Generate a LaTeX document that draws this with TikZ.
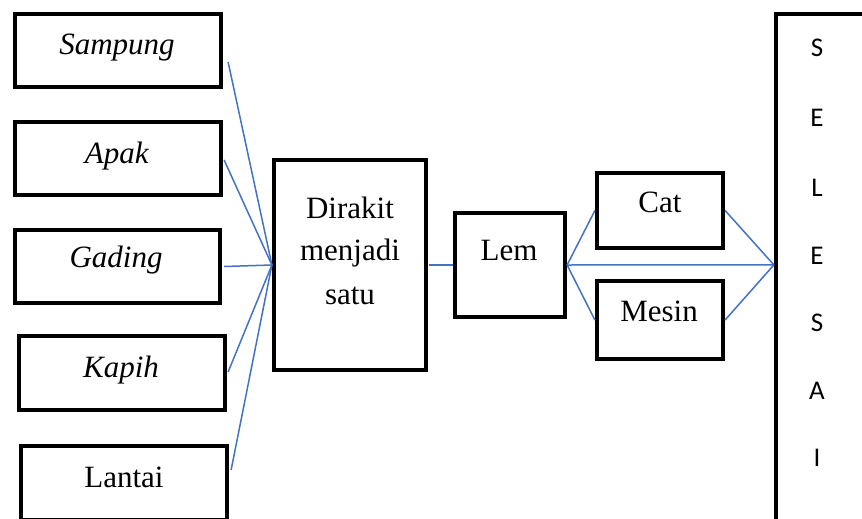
\documentclass[tikz,border=0pt]{standalone}
\usepackage{fontspec}
\setmainfont{Liberation Serif}
\newfontfamily\selesaifont{Carlito}
\usetikzlibrary{calc}
\definecolor{linkblue}{RGB}{68,114,196}
\tikzset{
  box/.style={draw=black, line width=4.2pt, rectangle, inner sep=0pt, fill=white},
  lbl/.style={anchor=base, inner sep=0pt, font=\fontsize{31}{37}\selectfont},
  sel/.style={anchor=base, inner sep=0pt, font=\selesaifont\fontsize{27}{31}\selectfont},
  link/.style={draw=linkblue, line width=1.5pt}
}
\begin{document}
\begin{tikzpicture}[x=1pt,y=-1pt]
\path[use as bounding box, clip] (0,0) rectangle (862,519);
\fill[white] (0,0) rectangle (862,519);
% boxes
\node[box, minimum width=206pt, minimum height=73pt] (sampung) at (118,50.5) {};
\node[box, minimum width=206pt, minimum height=73pt] (apak) at (118,158.5) {};
\node[box, minimum width=205pt, minimum height=73pt] (gading) at (117.5,266.5) {};
\node[box, minimum width=206pt, minimum height=74pt] (kapih) at (122,373) {};
\node[box, minimum width=206pt, minimum height=74pt] (lantai) at (124,483) {};
\node[box, minimum width=152pt, minimum height=210pt] (dirakit) at (350,265) {};
\node[box, minimum width=110pt, minimum height=104pt] (lem) at (510,265) {};
\node[box, minimum width=126pt, minimum height=75pt] (cat) at (660,210.5) {};
\node[box, minimum width=126pt, minimum height=78pt] (mesin) at (660,320) {};
\node[box, minimum width=124pt, minimum height=546pt] (selesai) at (838,287) {};
% texts
\node[lbl] (tsampung) at (117,55) {\textit{Sampung}};
\node[lbl] (tapak) at (117,163) {\textit{Apak}};
\node[lbl] (tgading) at (116,267) {\textit{Gading}};
\node[lbl] (tkapih) at (121,377) {\textit{Kapih}};
\node[lbl] (tlantai) at (124,487) {Lantai};
\node[lbl] (tdirakit1) at (350,218) {Dirakit};
\node[lbl] (tdirakit2) at (350,260) {menjadi};
\node[lbl] (tdirakit3) at (350,304) {satu};
\node[lbl] (tlem) at (509,260) {Lem};
\node[lbl] (tcat) at (660,212) {Cat};
\node[lbl] (tmesin) at (659,321) {Mesin};
\node[sel] (s1) at (817,57) {S};
\node[sel] (s2) at (817,126) {E};
\node[sel] (s3) at (817,196) {L};
\node[sel] (s4) at (817,264) {E};
\node[sel] (s5) at (817,331) {S};
\node[sel] (s6) at (817,399) {A};
\node[sel] (s7) at (817,466) {I};
% connectors
\coordinate (sin) at ($(selesai.north west)+(0,253)$);
\draw[link] ($(sampung.east)+(5,11.5)$) -- (dirakit.west);
\draw[link] ($(apak.east)+(1,1.5)$) -- (dirakit.west);
\draw[link] ($(gading.east)+(2,0)$) -- (dirakit.west);
\draw[link] ($(kapih.east)+(1,-1)$) -- (dirakit.west);
\draw[link] ($(lantai.east)+(2,-13)$) -- (dirakit.west);
\draw[link] ($(dirakit.east)+(1,0)$) -- (lem.west);
\draw[link] (lem.east) -- (cat.west);
\draw[link] (lem.east) -- (mesin.west);
\draw[link] (lem.east) -- (sin);
\draw[link] (cat.east) -- (sin);
\draw[link] (mesin.east) -- (sin);
\end{tikzpicture}
\end{document}
